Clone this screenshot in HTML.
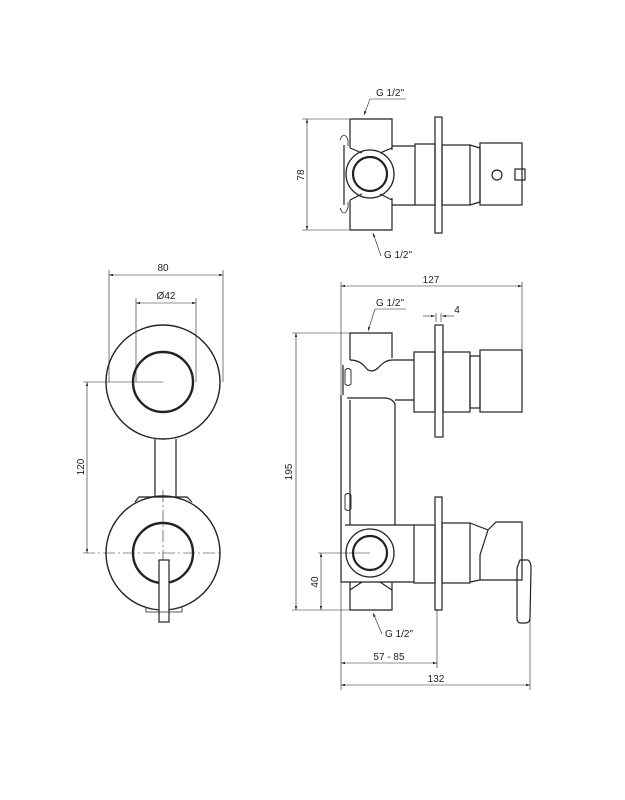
<!DOCTYPE html>
<html><head><meta charset="utf-8"><style>
html,body{margin:0;padding:0;background:#fff;}
svg{display:block;}
text{font-family:"Liberation Sans",sans-serif;font-size:10px;fill:#222;}
</style></head><body>
<svg width="625" height="800" viewBox="0 0 625 800" xmlns="http://www.w3.org/2000/svg">
<defs>
<marker id="a" viewBox="0 0 10 6" refX="10" refY="3" markerWidth="8" markerHeight="4" orient="auto-start-reverse"><path d="M0,0 L10,3 L0,6 z" fill="#222"/></marker>
</defs>
<g fill="none" stroke="#222" stroke-width="1.2">
<!-- LEFT FRONT VIEW -->
<line x1="109" y1="270" x2="109" y2="382" stroke-width="0.6"/>
<line x1="223" y1="270" x2="223" y2="382" stroke-width="0.6"/>
<line x1="109" y1="275" x2="223" y2="275" stroke-width="0.6" marker-start="url(#a)" marker-end="url(#a)"/>
<line x1="136" y1="298" x2="136" y2="382" stroke-width="0.6"/>
<line x1="196" y1="298" x2="196" y2="382" stroke-width="0.6"/>
<line x1="136" y1="303" x2="196" y2="303" stroke-width="0.6" marker-start="url(#a)" marker-end="url(#a)"/>
<circle cx="163" cy="382" r="57" stroke-width="1.4"/>
<circle cx="163" cy="382" r="30" stroke-width="2.4"/>
<line x1="83" y1="382" x2="163" y2="382" stroke-width="0.6"/>
<line x1="83" y1="553" x2="220" y2="553" stroke-width="0.6" stroke-dasharray="12,3,2,3"/>
<line x1="87" y1="382" x2="87" y2="553" stroke-width="0.6" marker-start="url(#a)" marker-end="url(#a)"/>
<line x1="155" y1="439" x2="155" y2="497"/>
<line x1="176" y1="439" x2="176" y2="497"/>
<path d="M135,502 L139,497 L187,497 L192,502"/>
<circle cx="163" cy="553" r="57" stroke-width="1.4"/>
<circle cx="163" cy="553" r="30" stroke-width="2.4"/>
<line x1="163" y1="490" x2="163" y2="625" stroke-width="0.6" stroke-dasharray="12,3,2,3"/>
<rect x="159" y="560" width="10" height="62" fill="#fff"/>
<path d="M146,607 L146,612 L182,612 L182,607" stroke-width="0.8"/>
<!-- TOP VIEW -->
<path d="M370,99 L406,99" stroke-width="0.6"/>
<line x1="370" y1="99" x2="364" y2="115" stroke-width="0.6" marker-end="url(#a)"/>
<line x1="302" y1="119" x2="350" y2="119" stroke-width="0.6"/>
<line x1="302" y1="230" x2="350" y2="230" stroke-width="0.6"/>
<line x1="307" y1="119" x2="307" y2="230" stroke-width="0.6" marker-start="url(#a)" marker-end="url(#a)"/>
<path d="M350,119 L392,119 L392,150 M350,119 L350,148"/>
<path d="M350,230 L392,230 L392,198 M350,230 L350,200"/>
<path d="M344,145 L344,205"/>
<path d="M340,140 q4,-10 8,0 l0,6 M340,208 q4,10 8,0 l0,-6" stroke-width="0.8"/>
<path d="M350,148 L362,153 M392,148 L380,153 M350,200 L362,194 M392,200 L380,194"/>
<circle cx="370" cy="174" r="24" stroke-width="1.3"/>
<circle cx="370" cy="174" r="17" stroke-width="2.2"/>
<path d="M392,146 L415,146 M392,205 L415,205"/>
<rect x="415" y="144" width="20" height="61"/>
<rect x="435" y="117" width="7" height="116"/>
<rect x="442" y="145" width="28" height="60"/>
<path d="M470,145 L480,148 L480,202 L470,205"/>
<rect x="480" y="143" width="42" height="62"/>
<circle cx="497" cy="175" r="5"/>
<rect x="515" y="169" width="10" height="11"/>
<line x1="373" y1="233" x2="381" y2="256" stroke-width="0.6" marker-start="url(#a)"/>
<!-- SIDE VIEW -->
<line x1="341" y1="282" x2="341" y2="690" stroke-width="0.6"/>
<line x1="522" y1="282" x2="522" y2="350" stroke-width="0.6"/>
<line x1="341" y1="286" x2="522" y2="286" stroke-width="0.6" marker-start="url(#a)" marker-end="url(#a)"/>
<path d="M375,309 L406,309" stroke-width="0.6"/>
<line x1="375" y1="309" x2="368" y2="331" stroke-width="0.6" marker-end="url(#a)"/>
<line x1="423" y1="316" x2="435" y2="316" stroke-width="0.6" marker-end="url(#a)"/>
<line x1="454" y1="316" x2="442" y2="316" stroke-width="0.6" marker-end="url(#a)"/>
<line x1="436" y1="313" x2="436" y2="322" stroke-width="0.6"/>
<line x1="441" y1="313" x2="441" y2="322" stroke-width="0.6"/>
<line x1="292" y1="333" x2="350" y2="333" stroke-width="0.6"/>
<line x1="292" y1="610" x2="350" y2="610" stroke-width="0.6"/>
<line x1="296" y1="333" x2="296" y2="610" stroke-width="0.6" marker-start="url(#a)" marker-end="url(#a)"/>
<path d="M350,333 L392,333 L392,358 M350,333 L350,360"/>
<path d="M350,360 Q360,360 366,368 Q371,374 378,368 Q385,360 392,360"/>
<path d="M343,365 L343,395 M341,395 L341,525"/>
<path d="M345,370 q3,-3 6,0 l0,14 q-3,3 -6,0 z" stroke-width="0.9"/>
<path d="M345,495 q3,-3 6,0 l0,14 q-3,3 -6,0 z" stroke-width="0.9"/>
<path d="M392,360 L414,360 M395,400 L414,400"/>
<path d="M347,398 L384,398 Q392,398 395,404 L395,525 M350,400 L350,525"/>
<path d="M345,525 L395,525"/>
<rect x="414" y="352" width="21" height="60"/>
<rect x="435" y="325" width="8" height="112"/>
<rect x="443" y="352" width="27" height="60"/>
<rect x="470" y="356" width="10" height="52"/>
<rect x="480" y="350" width="42" height="62"/>
<path d="M341,525 L341,582 L395,582"/>
<path d="M395,525 L414,525 M395,582 L414,582"/>
<circle cx="370" cy="553" r="24" stroke-width="1.3"/>
<circle cx="370" cy="553" r="17" stroke-width="2.2"/>
<path d="M350,590 L362,582 M392,590 L380,582"/>
<path d="M350,582 L350,610 L392,610 L392,582"/>
<line x1="318" y1="553" x2="370" y2="553" stroke-width="0.6"/>
<line x1="321" y1="553" x2="321" y2="610" stroke-width="0.6" marker-start="url(#a)" marker-end="url(#a)"/>
<rect x="414" y="525" width="21" height="58"/>
<rect x="435" y="497" width="7" height="113"/>
<line x1="437" y1="610" x2="437" y2="668" stroke-width="0.6"/>
<rect x="442" y="523" width="28" height="60"/>
<path d="M470,523 L488,530 L480,555 L480,580 L470,582"/>
<path d="M488,530 L496,522 L522,522 L522,580 L480,580"/>
<path d="M517,568 L520,560 L528,560 Q531,562 531,568 L530,618 Q530,623 525,623 L521,623 Q517,623 517,618 Z"/>
<line x1="530" y1="620" x2="530" y2="690" stroke-width="0.6"/>
<line x1="373" y1="613" x2="382" y2="634" stroke-width="0.6" marker-start="url(#a)"/>
<line x1="341" y1="663" x2="437" y2="663" stroke-width="0.6" marker-start="url(#a)" marker-end="url(#a)"/>
<line x1="341" y1="685" x2="530" y2="685" stroke-width="0.6" marker-start="url(#a)" marker-end="url(#a)"/>
</g>
<text x="163" y="271" text-anchor="middle">80</text>
<text x="166" y="299" text-anchor="middle">Ø42</text>
<text transform="translate(84,467) rotate(-90)" text-anchor="middle">120</text>
<text x="390" y="96" text-anchor="middle">G 1/2"</text>
<text transform="translate(304,175) rotate(-90)" text-anchor="middle">78</text>
<text x="398" y="258" text-anchor="middle">G 1/2"</text>
<text x="431" y="283" text-anchor="middle">127</text>
<text x="390" y="306" text-anchor="middle">G 1/2"</text>
<text x="457" y="313" text-anchor="middle">4</text>
<text transform="translate(292,472) rotate(-90)" text-anchor="middle">195</text>
<text transform="translate(318,582) rotate(-90)" text-anchor="middle">40</text>
<text x="399" y="637" text-anchor="middle">G 1/2"</text>
<text x="389" y="660" text-anchor="middle">57 - 85</text>
<text x="436" y="682" text-anchor="middle">132</text>
</svg>
</body></html>
